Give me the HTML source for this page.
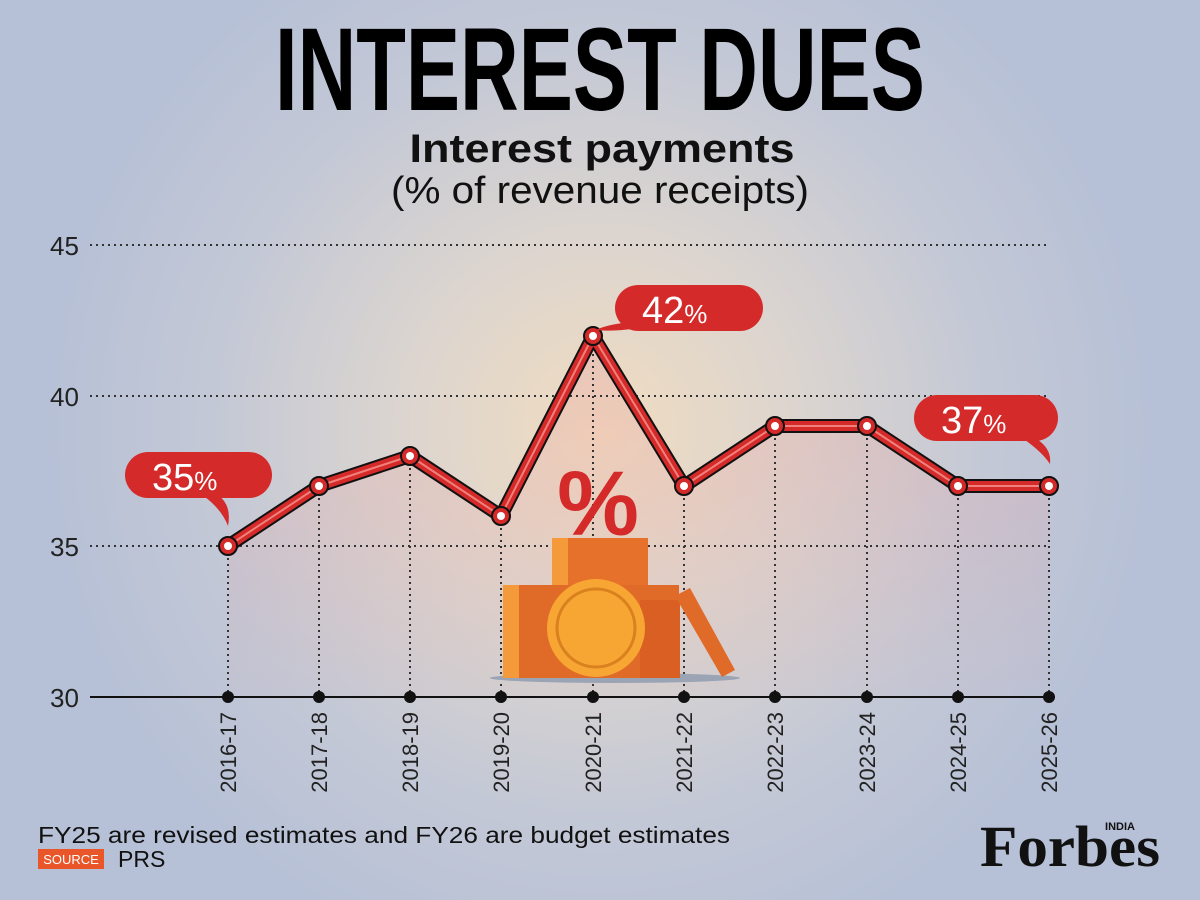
<!DOCTYPE html>
<html><head><meta charset="utf-8"><style>
html,body{margin:0;padding:0;width:1200px;height:900px;overflow:hidden;}
svg{display:block}
</style></head><body>
<svg width="1200" height="900" viewBox="0 0 1200 900" xmlns="http://www.w3.org/2000/svg">
<defs>
<radialGradient id="bg" cx="600" cy="430" r="560" gradientUnits="userSpaceOnUse">
<stop offset="0" stop-color="#f1dcc0"/>
<stop offset="0.35" stop-color="#dcd5cf"/>
<stop offset="0.7" stop-color="#c3c8d6"/>
<stop offset="1" stop-color="#b6c0d6"/>
</radialGradient>
<linearGradient id="area" x1="0" y1="0" x2="0" y2="1">
<stop offset="0" stop-color="#e8a0a0" stop-opacity="0.35"/>
<stop offset="1" stop-color="#e8a0a0" stop-opacity="0.05"/>
</linearGradient>
</defs>
<rect width="1200" height="900" fill="url(#bg)"/>
<polygon points="228,546 319,486 410,456 501,516 593,336 684,486 775,426 867,426 958,486 1049,486 1049,697 228,697" fill="url(#area)"/>
<g font-family="'Liberation Sans Narrow','Liberation Sans',sans-serif" fill="#000">
<text x="600" y="110" text-anchor="middle" font-size="118" font-weight="bold" textLength="650" lengthAdjust="spacingAndGlyphs">INTEREST DUES</text>
</g>
<g font-family="'Liberation Sans',sans-serif" fill="#111" text-anchor="middle">
<text x="602" y="162" font-size="40" font-weight="bold" textLength="385" lengthAdjust="spacingAndGlyphs">Interest payments</text>
<text x="600" y="203" font-size="38" textLength="418" lengthAdjust="spacingAndGlyphs">(% of revenue receipts)</text>
</g>
<g stroke="#333" stroke-width="2" stroke-dasharray="2,4">
<line x1="90" y1="245" x2="1048" y2="245"/>
<line x1="90" y1="396" x2="1048" y2="396"/>
<line x1="90" y1="546" x2="1048" y2="546"/>
<line x1="228" y1="546" x2="228" y2="697"/><line x1="319" y1="486" x2="319" y2="697"/>
<line x1="410" y1="456" x2="410" y2="697"/><line x1="501" y1="516" x2="501" y2="697"/>
<line x1="593" y1="336" x2="593" y2="697"/><line x1="684" y1="486" x2="684" y2="697"/>
<line x1="775" y1="426" x2="775" y2="697"/><line x1="867" y1="426" x2="867" y2="697"/>
<line x1="958" y1="486" x2="958" y2="697"/><line x1="1049" y1="486" x2="1049" y2="697"/>
</g>
<line x1="90" y1="697" x2="1055" y2="697" stroke="#111" stroke-width="2"/>
<g font-family="'Liberation Sans Narrow','Liberation Sans',sans-serif" font-size="26" fill="#222">
<text x="50" y="255">45</text><text x="50" y="406">40</text><text x="50" y="556">35</text><text x="50" y="707">30</text>
</g>
<!-- coins -->
<g>
<ellipse cx="615" cy="678" rx="125" ry="5" fill="#9aa4b4"/>
<rect x="552" y="538" width="96" height="140" fill="#e5712a"/>
<rect x="552" y="538" width="16" height="140" fill="#f49a3a"/>
<rect x="503" y="585" width="176" height="93" fill="#e06a28"/>
<rect x="503" y="585" width="16" height="93" fill="#f49a3a"/>
<rect x="640" y="600" width="40" height="78" fill="#d95f22"/>
<circle cx="596" cy="628" r="49" fill="#f7a533"/>
<circle cx="596" cy="628" r="39" fill="none" stroke="#d9801f" stroke-width="3"/>
<polygon points="675,596 690,588 735,670 722,677" fill="#e06a28"/>
<text x="598" y="535" font-family="'Liberation Sans',sans-serif" font-weight="bold" font-size="92" fill="#d42a2a" text-anchor="middle">%</text>
</g>
<!-- line -->
<polyline points="228,546 319,486 410,456 501,516 593,336 684,486 775,426 867,426 958,486 1049,486" fill="none" stroke="#111" stroke-width="14" stroke-linejoin="round"/>
<polyline points="228,546 319,486 410,456 501,516 593,336 684,486 775,426 867,426 958,486 1049,486" fill="none" stroke="#d42a2a" stroke-width="10" stroke-linejoin="round"/>
<polyline points="228,546 319,486 410,456 501,516 593,336 684,486 775,426 867,426 958,486 1049,486" fill="none" stroke="#f0807a" stroke-width="2" stroke-linejoin="round"/>
<g fill="#d42a2a" stroke="#111" stroke-width="2">
<circle cx="228" cy="546" r="9"/><circle cx="319" cy="486" r="9"/><circle cx="410" cy="456" r="9"/><circle cx="501" cy="516" r="9"/><circle cx="593" cy="336" r="9"/><circle cx="684" cy="486" r="9"/><circle cx="775" cy="426" r="9"/><circle cx="867" cy="426" r="9"/><circle cx="958" cy="486" r="9"/><circle cx="1049" cy="486" r="9"/>
</g>
<g fill="#fff">
<circle cx="228" cy="546" r="4"/><circle cx="319" cy="486" r="4"/><circle cx="410" cy="456" r="4"/><circle cx="501" cy="516" r="4"/><circle cx="593" cy="336" r="4"/><circle cx="684" cy="486" r="4"/><circle cx="775" cy="426" r="4"/><circle cx="867" cy="426" r="4"/><circle cx="958" cy="486" r="4"/><circle cx="1049" cy="486" r="4"/>
</g>
<g fill="#111">
<circle cx="228" cy="697" r="6"/><circle cx="319" cy="697" r="6"/><circle cx="410" cy="697" r="6"/><circle cx="501" cy="697" r="6"/><circle cx="593" cy="697" r="6"/><circle cx="684" cy="697" r="6"/><circle cx="775" cy="697" r="6"/><circle cx="867" cy="697" r="6"/><circle cx="958" cy="697" r="6"/><circle cx="1049" cy="697" r="6"/>
</g>
<g font-family="'Liberation Sans Narrow','Liberation Sans',sans-serif" font-size="22" fill="#222" text-anchor="end">
<text transform="translate(236,712) rotate(-90)">2016-17</text>
<text transform="translate(327,712) rotate(-90)">2017-18</text>
<text transform="translate(418,712) rotate(-90)">2018-19</text>
<text transform="translate(509,712) rotate(-90)">2019-20</text>
<text transform="translate(601,712) rotate(-90)">2020-21</text>
<text transform="translate(692,712) rotate(-90)">2021-22</text>
<text transform="translate(783,712) rotate(-90)">2022-23</text>
<text transform="translate(875,712) rotate(-90)">2023-24</text>
<text transform="translate(966,712) rotate(-90)">2024-25</text>
<text transform="translate(1057,712) rotate(-90)">2025-26</text>
</g>
<!-- bubbles -->
<g fill="#d42a2a">
<rect x="125" y="452" width="147" height="46" rx="23"/>
<path d="M218,495 Q232,505 228,526 Q222,510 205,497 Z"/>
<rect x="615" y="285" width="148" height="46" rx="23"/>
<path d="M630,322 Q605,325 596,330 Q612,332 640,328 Z"/>
<rect x="914" y="395" width="144" height="46" rx="23"/>
<path d="M1035,438 Q1052,448 1050,464 Q1042,452 1025,440 Z"/>
</g>
<g font-family="'Liberation Sans',sans-serif" fill="#fff">
<text x="152" y="490" font-size="38">35<tspan font-size="26">%</tspan></text>
<text x="642" y="323" font-size="38">42<tspan font-size="26">%</tspan></text>
<text x="941" y="433" font-size="38">37<tspan font-size="26">%</tspan></text>
</g>
<!-- footer -->
<g font-family="'Liberation Sans',sans-serif">
<text x="38" y="843" font-size="23" fill="#111" textLength="692" lengthAdjust="spacingAndGlyphs">FY25 are revised estimates and FY26 are budget estimates</text>
<rect x="38" y="849" width="66" height="20" fill="#e8562a"/>
<text x="71" y="864" font-size="13" fill="#fff" text-anchor="middle">SOURCE</text>
<text x="118" y="867" font-size="23" fill="#111">PRS</text>
</g>
<text x="1070" y="866" font-family="'Liberation Serif',serif" font-weight="bold" font-size="58" fill="#111" text-anchor="middle" textLength="180" lengthAdjust="spacingAndGlyphs">Forbes</text>
<text x="1120" y="830" font-family="'Liberation Sans',sans-serif" font-weight="bold" font-size="11" fill="#111" text-anchor="middle">INDIA</text>
</svg>
</body></html>
